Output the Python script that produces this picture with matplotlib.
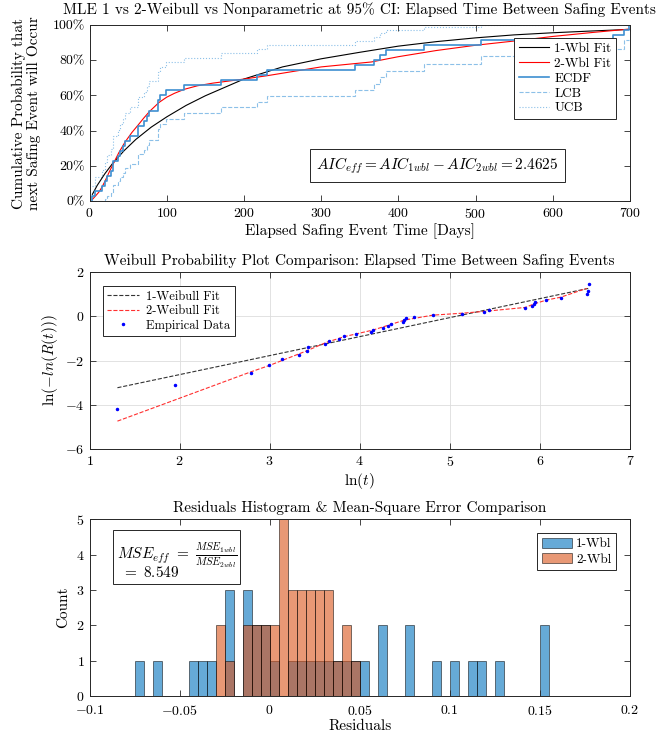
import numpy as np
import matplotlib
matplotlib.use("Agg")
import matplotlib.pyplot as plt
from matplotlib.ticker import FuncFormatter

plt.rcParams['font.family'] = 'serif'
plt.rcParams['font.serif'] = ['cmr10']
plt.rcParams['mathtext.fontset'] = 'cm'
plt.rcParams['axes.unicode_minus'] = False
plt.rcParams['axes.formatter.use_mathtext'] = True

# elapsed days between safing events
event_days = [3.7, 7.0, 16.4, 19.9, 23.1, 27.9, 30.3, 30.9, 37.3, 38.9, 43.4, 46.1,
              52.5, 62.2, 63.4, 70.8, 74.4, 77.5, 88.2, 89.1, 90.9, 99.5, 122.7,
              170.7, 217.0, 230.4, 343.7, 368.7, 376.2, 383.8, 433.3, 507.5,
              678.6, 692.3, 699.2]
# empirical weibull plot ordinates
wbl_plot_y = [-4.21, -3.11, -2.58, -2.22, -1.95, -1.74, -1.56, -1.41, -1.26, -1.12,
              -1.02, -0.90, -0.78, -0.70, -0.60, -0.51, -0.43, -0.35, -0.26, -0.18,
              -0.10, -0.05, 0.05, 0.11, 0.20, 0.27, 0.37, 0.46, 0.57, 0.64, 0.72,
              0.84, 1.00, 1.15, 1.47]

# fitted CDFs (top panel)
fit1_days = [3.7, 10, 20, 30, 45, 60, 80, 100, 125, 150, 200, 250, 300, 350, 400, 450,
             500, 550, 600, 650, 699]
fit1_cdf = [0.038, 0.089, 0.156, 0.214, 0.287, 0.35, 0.42, 0.478, 0.543, 0.598, 0.693,
            0.762, 0.808, 0.845, 0.88, 0.906, 0.927, 0.944, 0.956, 0.966, 0.975]
fit2_days = [3.7, 7, 12, 16, 20, 25, 30, 38, 46, 55, 63, 70, 78, 90, 100, 110, 123, 140,
             160, 200, 230, 300, 365, 400, 449, 500, 552, 600, 650, 699]
fit2_cdf = [0.009, 0.025, 0.05, 0.078, 0.112, 0.16, 0.205, 0.275, 0.335, 0.39, 0.432,
            0.47, 0.51, 0.56, 0.59, 0.612, 0.635, 0.655, 0.67, 0.693, 0.712, 0.762,
            0.79, 0.82, 0.855, 0.885, 0.91, 0.935, 0.957, 0.977]

# fitted lines (weibull probability plot)
line1_lnt = [1.31, 6.55]
line1_y = [-3.23, 1.27]
line2_lnt = [1.31, 1.95, 2.8, 3.0, 3.4, 3.63, 3.83, 4.15, 4.5, 4.81, 5.14, 5.38, 5.84,
             5.93, 6.07, 6.23, 6.52]
line2_y = [-4.74, -3.78, -2.50, -2.22, -1.58, -1.18, -0.92, -0.62, -0.17, 0.05, 0.14,
           0.22, 0.40, 0.55, 0.73, 0.86, 1.26]

# residual histogram counts, bins of 0.005 from -0.075 to 0.155
hist_edges = np.linspace(-0.075, 0.155, 47)
counts_1wbl = [1, 0, 1, 0, 0, 0, 1, 1, 1, 0, 3, 0, 3, 2, 2, 1, 0, 1, 1, 1, 1, 1, 1,
               1, 1, 1, 0, 2, 0, 0, 2, 0, 0, 1, 0, 1, 0, 1, 1, 0, 1, 0, 0, 0, 0, 2]
counts_2wbl = [0, 0, 0, 0, 0, 0, 0, 0, 0, 2, 1, 0, 2, 2, 2, 2, 5, 3, 3, 3, 3, 3, 1,
               2, 1, 0, 0, 0, 0, 0, 0, 0, 0, 0, 0, 0, 0, 0, 0, 0, 0, 0, 0, 0, 0, 0]

aic_eff = 2.4625
mse_eff = 8.549

AX = '#262626'
ECDF_C = '#3d8fd1'
BND_C = '#8cc0e8'


def style(ax, xpad=4):
    ax.tick_params(direction='in', top=True, right=True, labelsize=10,
                   color=AX, length=4, width=0.6)
    ax.tick_params(axis='x', pad=xpad)
    for s in ax.spines.values():
        s.set_color(AX)
        s.set_linewidth(0.7)


def legend(ax, **kw):
    lg = ax.legend(fancybox=False, framealpha=1, edgecolor=AX, borderpad=0.35,
                   labelspacing=0.2, borderaxespad=0, **kw)
    lg.get_frame().set_linewidth(0.7)
    return lg


fig = plt.figure(figsize=(6.68, 7.38), dpi=100)
fmt = FuncFormatter(lambda v, p: f'${v:g}$')

# ---- top: CDF comparison
ax1 = fig.add_axes([0.134, 0.7276, 0.809, 0.2385])
n = len(event_days)
days = np.sort(event_days)
F = np.arange(1, n) / n
se = np.sqrt(F * (1 - F) / n)
lcb = np.clip(F - 1.96 * se, 0, 1)
ucb = np.clip(F + 1.96 * se, 0, 1)

ax1.plot(fit1_days, fit1_cdf, color='k', lw=0.8, label='1-Wbl Fit')
ax1.plot(fit2_days, fit2_cdf, color='r', lw=0.8, label='2-Wbl Fit')
ax1.ecdf(event_days, color=ECDF_C, lw=1.2, label='ECDF')
ax1.stairs(lcb, days, baseline=None, color=BND_C, lw=0.8, ls='--', label='LCB')
ax1.stairs(ucb, days, baseline=None, color=BND_C, lw=0.8, ls=':', label='UCB')
ax1.set_xlim(0, 700)
ax1.set_ylim(0, 1)
ax1.set_xticks(range(0, 701, 100))
ax1.set_yticks(np.linspace(0, 1, 6))
ax1.set_yticklabels(['0%', '20%', '40%', '60%', '80%', '100%'])
ax1.xaxis.set_major_formatter(fmt)
style(ax1)
ax1.set_title('MLE 1 vs 2-Weibull vs Nonparametric at 95% CI: Elapsed Time Between Safing Events',
              fontsize=11, pad=8)
ax1.set_xlabel('Elapsed Safing Event Time [Days]', fontsize=11, labelpad=2)
ax1.set_ylabel('Cumulative Probability that\nnext Safing Event will Occur', fontsize=11,
               labelpad=8, linespacing=1.15)
legend(ax1, loc='upper right', bbox_to_anchor=(0.974, 0.926), fontsize=9.5,
       handlelength=2.3, handletextpad=0.4)
ax1.text(451, 0.2, r'$AIC_{eff} = AIC_{1wbl} - AIC_{2wbl} = %.4f$' % aic_eff,
         ha='center', va='center', fontsize=11,
         bbox=dict(boxstyle='square,pad=0.4', fc='white', ec=AX, lw=0.7))

# ---- middle: weibull probability plot
ax2 = fig.add_axes([0.134, 0.3916, 0.809, 0.2398])
ax2.grid(True, color='#dddddd', lw=0.6)
ax2.set_axisbelow(True)
ax2.plot(line1_lnt, line1_y, '--', color='#333333', lw=0.8, label='1-Weibull Fit')
ax2.plot(line2_lnt, line2_y, '--', color='#ff3030', lw=0.8, label='2-Weibull Fit')
ax2.plot(np.log(event_days), wbl_plot_y, '.', color='b', ms=3, label='Empirical Data')
ax2.set_xlim(1, 7)
ax2.set_ylim(-6, 2)
ax2.set_xticks(range(1, 8))
ax2.set_yticks(range(-6, 3, 2))
ax2.xaxis.set_major_formatter(fmt)
ax2.yaxis.set_major_formatter(fmt)
style(ax2)
ax2.set_title('Weibull Probability Plot Comparison: Elapsed Time Between Safing Events',
              fontsize=11, pad=5)
ax2.set_xlabel(r'ln$(t)$', fontsize=11, labelpad=2)
ax2.set_ylabel(r'ln$(-ln(R(t)))$', fontsize=11, labelpad=4)
legend(ax2, loc='upper left', bbox_to_anchor=(0.025, 0.921), fontsize=9,
       handlelength=2.5, handletextpad=0.6)

# ---- bottom: residual histograms
ax3 = fig.add_axes([0.134, 0.0569, 0.809, 0.2394])
w = hist_edges[1] - hist_edges[0]
ax3.bar(hist_edges[:-1], counts_1wbl, width=w, align='edge', color='#0072bd', alpha=0.6,
        edgecolor='k', lw=0.6, label='1-Wbl')
ax3.bar(hist_edges[:-1], counts_2wbl, width=w, align='edge', color='#d95319', alpha=0.6,
        edgecolor='k', lw=0.6, label='2-Wbl')
ax3.set_xlim(-0.1, 0.2)
ax3.set_ylim(0, 5)
ax3.set_xticks([-0.1, -0.05, 0, 0.05, 0.1, 0.15, 0.2])
ax3.xaxis.set_major_formatter(fmt)
ax3.yaxis.set_major_formatter(fmt)
style(ax3, xpad=5.5)
ax3.set_title('Residuals Histogram & Mean-Square Error Comparison', fontsize=11, pad=5)
ax3.set_xlabel('Residuals', fontsize=11, labelpad=1)
ax3.set_ylabel('Count', fontsize=11, labelpad=4)
legend(ax3, loc='upper right', bbox_to_anchor=(0.974, 0.922), fontsize=9.5,
       handlelength=2.3, handletextpad=0.3, handleheight=0.8)
ax3.text(0.05, 0.875,
         r'$MSE_{eff}\ =\ \frac{MSE_{1wbl}}{MSE_{2wbl}}$' + '\n' + r'$\ =\ %.3f$' % mse_eff,
         transform=ax3.transAxes, ha='left', va='top', fontsize=11, linespacing=0.6,
         bbox=dict(boxstyle='square,pad=0.25', fc='white', ec=AX, lw=0.7))

fig.savefig('out.png', dpi=100)
